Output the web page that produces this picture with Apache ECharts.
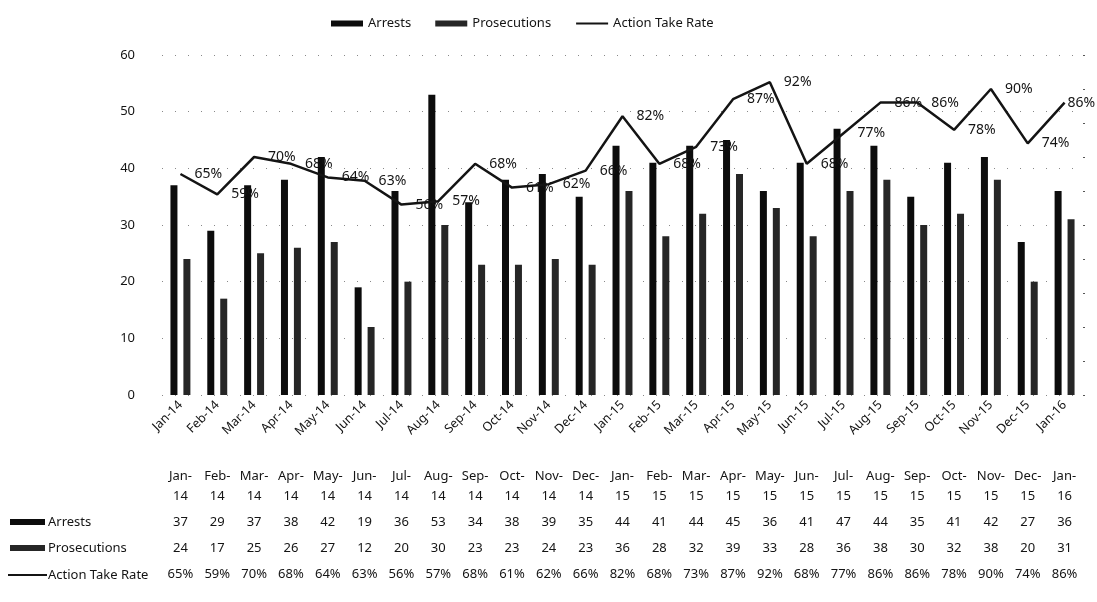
<!DOCTYPE html>
<html>
<head>
<meta charset="utf-8">
<script src="https://cdn.jsdelivr.net/npm/echarts@6/dist/echarts.min.js"></script>
<style>
  html, body { margin: 0; padding: 0; background: #fff; }
  #chart { width: 1097px; height: 602px; }
</style>
</head>
<body>
<div id="chart"></div>
<script>
const months = ["Jan-14", "Feb-14", "Mar-14", "Apr-14", "May-14", "Jun-14", "Jul-14", "Aug-14", "Sep-14", "Oct-14", "Nov-14", "Dec-14",
  "Jan-15", "Feb-15", "Mar-15", "Apr-15", "May-15", "Jun-15", "Jul-15", "Aug-15", "Sep-15", "Oct-15", "Nov-15", "Dec-15", "Jan-16"];
const arrests = [37, 29, 37, 38, 42, 19, 36, 53, 34, 38, 39, 35, 44, 41, 44, 45, 36, 41, 47, 44, 35, 41, 42, 27, 36];
const prosecutions = [24, 17, 25, 26, 27, 12, 20, 30, 23, 23, 24, 23, 36, 28, 32, 39, 33, 28, 36, 38, 30, 32, 38, 20, 31];
const actionRate = [65, 59, 70, 68, 64, 63, 56, 57, 68, 61, 62, 66, 82, 68, 73, 87, 92, 68, 77, 86, 86, 78, 90, 74, 86];
const leftTicks = [0, 10, 20, 30, 40, 50, 60];

const font = "Noto Sans";
const ink = "#141414";

// one hidden category axis per table row, pushed down with offset
const tableAxis = (data, offset, formatter, lineHeight) => ({
  type: "category",
  gridIndex: 0,
  position: "bottom",
  offset: offset,
  data: data,
  axisLine: { show: false },
  axisTick: { show: false },
  axisLabel: {
    margin: 0,
    interval: 0,
    fontFamily: font,
    fontSize: 13,
    color: ink,
    lineHeight: lineHeight || 16,
    formatter: formatter
  }
});

// last label sits tight against the point so it stays inside the frame
const rateData = actionRate.map((v, i) =>
  i === actionRate.length - 1 ? { value: v, label: { distance: 2 } } : v
);

const chart = echarts.init(document.getElementById("chart"));

chart.setOption({
  animation: false,
  textStyle: { fontFamily: font, color: ink },
  legend: {
    left: 326,
    top: 12,
    itemWidth: 32,
    itemHeight: 6,
    itemGap: 24,
    textStyle: { fontFamily: font, fontSize: 13, color: ink },
    data: [
      { name: "Arrests", icon: "rect" },
      { name: "Prosecutions", icon: "rect" },
      { name: "Action Take Rate" }
    ]
  },
  grid: { left: 162, right: 14, top: 55, bottom: 207 },
  xAxis: [
    {
      type: "category",
      data: months,
      axisLine: { show: false },
      axisTick: { show: false },
      axisLabel: { interval: 0, rotate: 45, margin: 8, fontFamily: font, fontSize: 12.5, color: ink }
    },
    tableAxis(months, 71, v => v.replace("-", "-\n"), 20),
    tableAxis(arrests, 119),
    tableAxis(prosecutions, 145),
    tableAxis(actionRate, 171, v => v + "%")
  ],
  yAxis: [
    {
      type: "value",
      min: leftTicks[0],
      max: leftTicks[leftTicks.length - 1],
      interval: 10,
      axisLine: { show: false },
      axisTick: { show: false },
      axisLabel: { margin: 27, fontFamily: font, fontSize: 13, color: ink },
      splitLine: { show: true, lineStyle: { color: "#888", type: [1, 12], width: 1 } }
    },
    {
      type: "value",
      min: 0,
      max: 100,
      interval: 10,
      position: "right",
      axisLine: { show: false },
      axisTick: { show: true, length: 2, lineStyle: { color: "#555" } },
      axisLabel: { show: false },
      splitLine: { show: false }
    }
  ],
  series: [
    {
      name: "Arrests",
      type: "bar",
      data: arrests,
      barWidth: 7,
      barGap: "85%",
      itemStyle: { color: "#0c0c0c" }
    },
    {
      name: "Prosecutions",
      type: "bar",
      data: prosecutions,
      barWidth: 7,
      itemStyle: { color: "#262626" }
    },
    {
      name: "Action Take Rate",
      type: "line",
      yAxisIndex: 1,
      data: rateData,
      symbol: "circle",
      symbolSize: 2,
      showSymbol: true,
      lineStyle: { color: ink, width: 2.5 },
      itemStyle: { color: "rgba(0,0,0,0)" },
      label: {
        show: true,
        position: "right",
        distance: 13,
        fontFamily: font,
        fontSize: 14,
        color: ink,
        formatter: p => p.value + "%"
      },
      labelLayout: { hideOverlap: false }
    }
  ],
  graphic: [
    { type: "rect", shape: { x: 10, y: 519, width: 35, height: 6 }, style: { fill: "#0c0c0c" } },
    { type: "text", x: 48, y: 522, style: { text: "Arrests", font: "13px " + font, fill: ink, verticalAlign: "middle" } },
    { type: "rect", shape: { x: 10, y: 545, width: 35, height: 6 }, style: { fill: "#262626" } },
    { type: "text", x: 48, y: 548, style: { text: "Prosecutions", font: "13px " + font, fill: ink, verticalAlign: "middle" } },
    { type: "line", shape: { x1: 8, y1: 575, x2: 47, y2: 575 }, style: { stroke: ink, lineWidth: 2 } },
    { type: "text", x: 48, y: 575, style: { text: "Action Take Rate", font: "13px " + font, fill: ink, verticalAlign: "middle" } }
  ]
});
</script>
</body>
</html>
